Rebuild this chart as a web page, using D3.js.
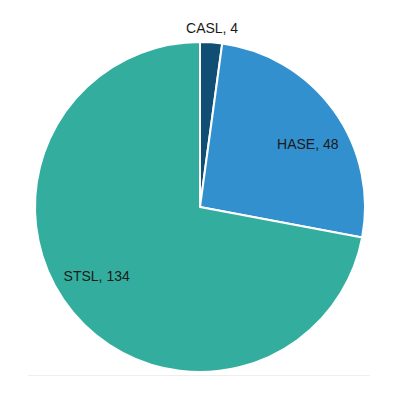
<!DOCTYPE html>
<html>
<head>
<meta charset="utf-8">
<script src="https://cdn.jsdelivr.net/npm/d3@7"></script>
<style>
  html, body { margin: 0; padding: 0; background: #fff; }
  svg { display: block; }
</style>
</head>
<body>
<svg id="chart"></svg>
<script>
const categories = ['CASL', 'HASE', 'STSL'];
const values = [4, 48, 134];
const colors = ['#114e74', '#3390ce', '#33ae9e'];

const width = 397;
const height = 415;
const cx = 200;
const cy = 207;
const radius = 165;

const svg = d3.select('#chart')
  .attr('width', width)
  .attr('height', height);

// faint baseline under the pie
svg.append('line')
  .attr('x1', 28).attr('x2', 370)
  .attr('y1', 375.5).attr('y2', 375.5)
  .attr('stroke', '#eeeeee')
  .attr('stroke-width', 1);

const g = svg.append('g')
  .attr('transform', `translate(${cx}, ${cy})`);

const data = categories.map((c, i) => ({ name: c, value: values[i], color: colors[i] }));

const pie = d3.pie()
  .sort(null)
  .value(d => d.value);

const arc = d3.arc()
  .innerRadius(0)
  .outerRadius(radius);

const arcs = pie(data);

g.selectAll('path')
  .data(arcs)
  .enter()
  .append('path')
  .attr('d', arc)
  .attr('fill', d => d.data.color)
  .attr('stroke', '#fff')
  .attr('stroke-width', 2)
  .attr('stroke-linejoin', 'round');

// labels: small slice outside, others inside
function labelPos(d) {
  const small = (d.endAngle - d.startAngle) < 0.3;
  const r = small ? radius * 1.085 : radius * 0.755;
  const a = (d.startAngle + d.endAngle) / 2 + (small ? 0 : 0.1);
  return [Math.sin(a) * r, -Math.cos(a) * r];
}

g.selectAll('text')
  .data(arcs)
  .enter()
  .append('text')
  .attr('x', d => labelPos(d)[0])
  .attr('y', d => labelPos(d)[1])
  .attr('dy', '0.35em')
  .attr('text-anchor', 'middle')
  .attr('font-family', 'Liberation Sans, Arial, sans-serif')
  .attr('font-size', 14)
  .attr('fill', '#1a1a1a')
  .text(d => `${d.data.name}, ${d.data.value}`);
</script>
</body>
</html>
